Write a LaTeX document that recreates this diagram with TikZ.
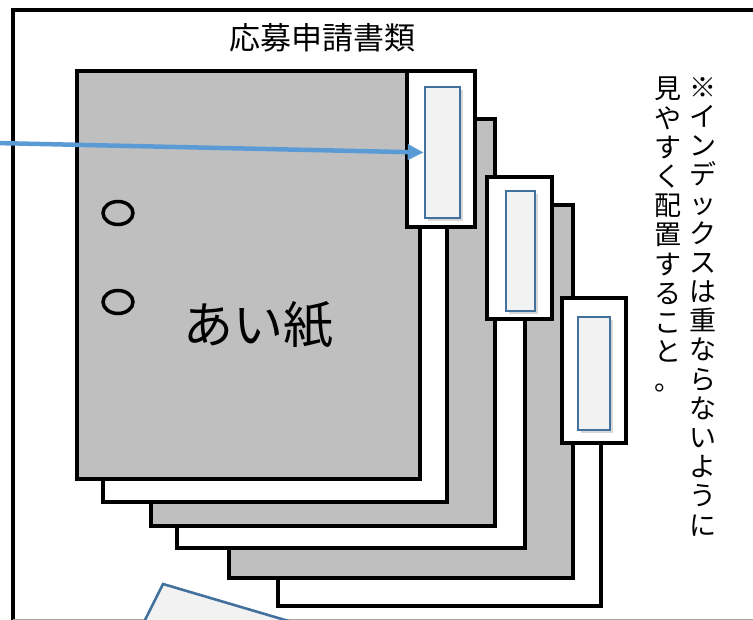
\documentclass[tikz,border=0pt]{standalone}
\usepackage{fontspec}
\usepackage{tikz}
\usetikzlibrary{arrows.meta, positioning, shapes.geometric, shadows}
\newfontfamily\jpfont{Noto Sans CJK JP}
\definecolor{sheetgray}{HTML}{BFBFBF}
\definecolor{cardgray}{HTML}{F2F2F2}
\definecolor{idxblue}{HTML}{41719C}
\definecolor{arrowblue}{HTML}{5B9BD5}

\begin{document}
\begin{tikzpicture}[x=1pt, y=-1pt, font=\jpfont]
        \tikzset{
        sheet/.style   = {draw, line width=4.5pt, fill=sheetgray},
        blank/.style   = {draw, line width=4.5pt, fill=white},
        tabbox/.style  = {draw, line width=4.5pt, fill=white, rectangle, inner sep=0pt},
        idxcard/.style = {draw=idxblue, line width=2.6pt, fill=cardgray, rectangle, inner sep=0pt,
                          drop shadow={shadow xshift=3pt, shadow yshift=-3pt, opacity=0.3}},
        hole/.style    = {draw, ellipse, line width=3.5pt, minimum width=30pt, minimum height=23pt, inner sep=0pt},
        vtext/.style   = {align=center, inner sep=0pt, font=\jpfont\fontsize{27}{29.2}\selectfont},
        pointer/.style = {draw=arrowblue, line width=4.5pt, -{Triangle[length=16pt, width=15pt]}}
        }
        \useasboundingbox (0,0) rectangle (753,620);
        \clip (0,0) rectangle (753,620);

        % outer frame
        \draw[line width=4.5pt] (13,660) -- (13,10) -- (790,10);
        \draw[gray!70, line width=1pt] (13,619.5) -- (753,619.5);
        \node[font=\jpfont\fontsize{31}{31}\selectfont] (title) at (322,38) {応募申請書類};

        % sheets, back to front
        \draw[blank] (278,298) rectangle (601,606);
        \draw[sheet] (229,205) rectangle (573,578);
        \draw[blank] (177,177) rectangle (525,548);
        \draw[sheet] (151,119) rectangle (495,526);
        \draw[blank] (103,71) rectangle (447,502);
        \draw[sheet] (77,71) rectangle (420,479);

        % front sheet
        \node[hole] (hole1) at (118,213) {};
        \node[hole] (hole2) at (118,302) {};
        \node[font=\jpfont\fontsize{50}{50}\selectfont] (cover) at (258,325) {あい紙};

        % index tabs
        \node[tabbox, minimum width=68pt, minimum height=156pt] (tab1) at (441,149) {};
        \node[idxcard, minimum width=35pt, minimum height=131pt] (idx1) at (442.5,152.5) {};
        \node[tabbox, minimum width=65pt, minimum height=142pt] (tab2) at (519.5,248) {};
        \node[idxcard, minimum width=29pt, minimum height=120pt] (idx2) at (520.5,251) {};
        \node[tabbox, minimum width=64pt, minimum height=145pt] (tab3) at (594,370.5) {};
        \node[idxcard, minimum width=32pt, minimum height=113pt] (idx3) at (594,373.5) {};

        % pointer from the left
        \coordinate (src) at (-5,143);
        \draw[pointer] (src) -- (idx1.west);

        % callout at the bottom
        \draw[draw=idxblue, line width=2.6pt, fill=cardgray] (163,584) -- (133,644) -- (377,716) -- (407,656) -- cycle;

        % note, written top to bottom
        \node[vtext, anchor=north] (noteA) at (703,77)
            {※\\イ\\ン\\デ\\ッ\\ク\\ス\\は\\重\\な\\ら\\な\\い\\よ\\う\\に};
        \node[vtext, anchor=north] (noteB) at (668,77)
            {見\\や\\す\\く\\配\\置\\す\\る\\こ\\と\\。};
    \end{tikzpicture}
\end{document}
